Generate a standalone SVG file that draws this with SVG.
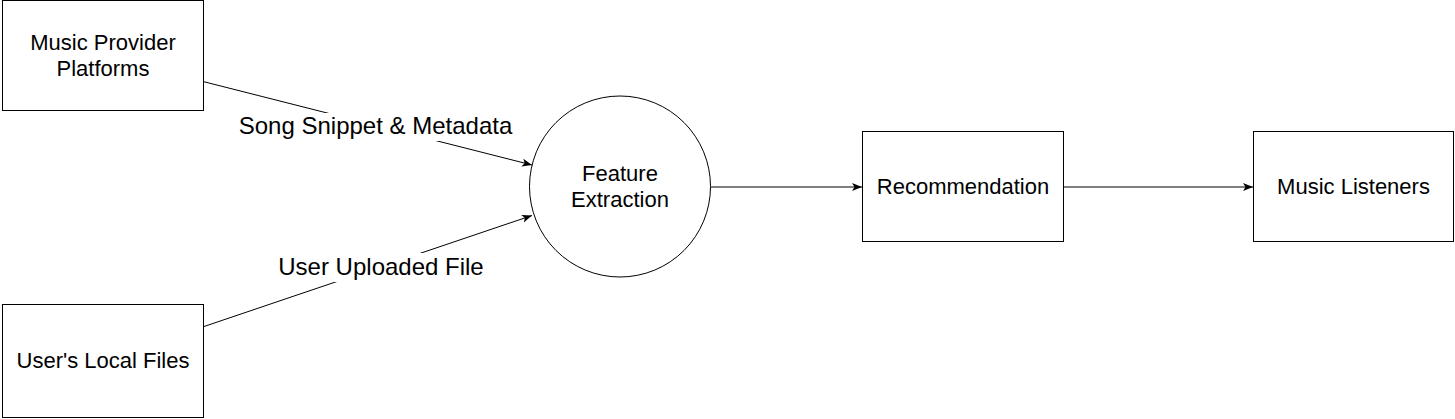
<svg xmlns="http://www.w3.org/2000/svg" width="1455" height="419" viewBox="0 0 1455 419">
<style>
.box{fill:#fff;stroke:#000;stroke-width:1}
.t{font-family:"Liberation Sans",Arial,sans-serif;font-size:22px;fill:#000;text-anchor:middle}
.lbl{font-family:"Liberation Sans",Arial,sans-serif;font-size:24px;fill:#000;text-anchor:middle}
.edge{fill:none;stroke:#000;stroke-width:1}
</style>
<defs>
<marker id="arr" viewBox="0 0 10 10" refX="10" refY="5" markerWidth="10" markerHeight="10" markerUnits="userSpaceOnUse" orient="auto">
<path d="M0,1 L10,5 L0,9 L2.5,5 Z" fill="#000"/>
</marker>
</defs>
<rect width="1455" height="419" fill="#fff"/>
<g id="connectors">
<line class="edge" x1="203" y1="81.5" x2="532" y2="165" marker-end="url(#arr)"/>
<line class="edge" x1="204" y1="326.5" x2="532" y2="215.5" marker-end="url(#arr)"/>
<line class="edge" x1="711" y1="187" x2="862" y2="187" marker-end="url(#arr)"/>
<line class="edge" x1="1063" y1="187" x2="1253" y2="187" marker-end="url(#arr)"/>
<rect x="238" y="113" width="276" height="28" fill="#fff"/>
<text class="lbl" x="375.5" y="134">Song Snippet &amp; Metadata</text>
<rect x="278" y="253" width="206" height="29" fill="#fff"/>
<text class="lbl" x="381" y="275">User Uploaded File</text>
</g>
<g id="music-provider">
<rect class="box" x="2.5" y="0.5" width="201" height="110"/>
<text class="t" x="103" y="50">Music Provider</text>
<text class="t" x="103" y="76">Platforms</text>
</g>
<g id="local-files">
<rect class="box" x="2.5" y="304.5" width="201" height="113"/>
<text class="t" x="103" y="367.5">User's Local Files</text>
</g>
<g id="feature-extraction">
<circle class="box" cx="620" cy="186.5" r="90.5"/>
<text class="t" x="620" y="181">Feature</text>
<text class="t" x="620" y="207">Extraction</text>
</g>
<g id="recommendation">
<rect class="box" x="862.5" y="131.5" width="201" height="110"/>
<text class="t" x="963" y="194">Recommendation</text>
</g>
<g id="music-listeners">
<rect class="box" x="1253.5" y="131.5" width="200" height="110"/>
<text class="t" x="1353.5" y="194">Music Listeners</text>
</g>
</svg>
